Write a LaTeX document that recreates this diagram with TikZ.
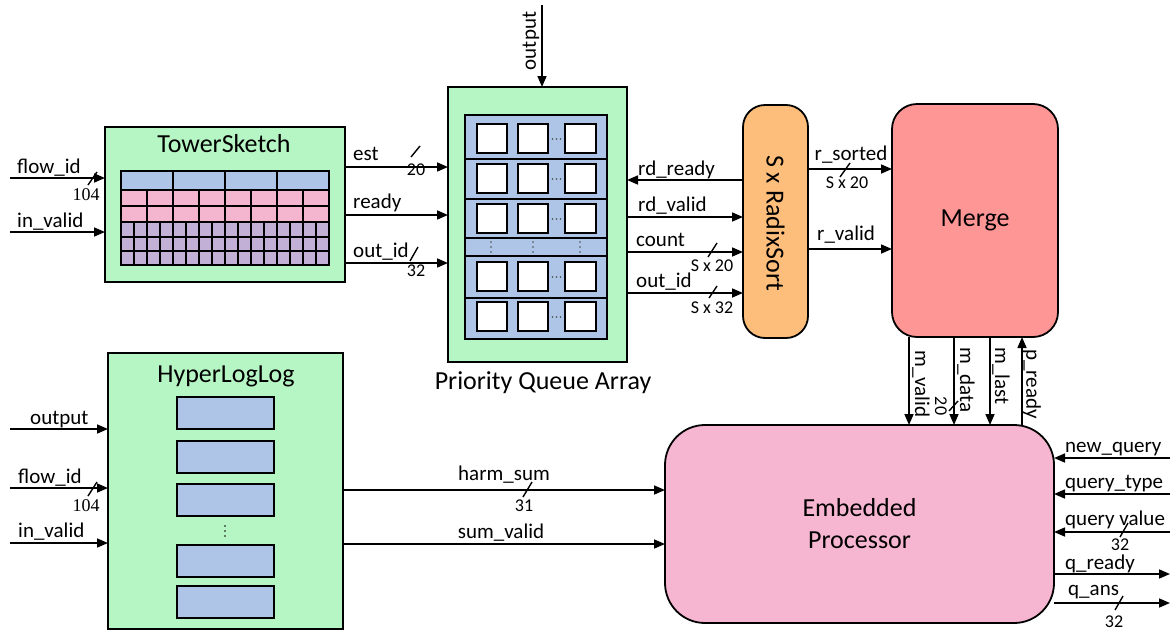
\documentclass[tikz,border=0pt]{standalone}
\usepackage{fontspec}
\setmainfont{Carlito}
\newfontfamily\numserif{Liberation Serif}
\usetikzlibrary{arrows.meta}
\definecolor{boxgreen}{RGB}{182,246,196}
\definecolor{cellblue}{RGB}{174,197,231}
\definecolor{cellpink}{RGB}{244,182,206}
\definecolor{cellpurple}{RGB}{195,176,214}
\definecolor{sortorange}{RGB}{253,190,123}
\definecolor{mergered}{RGB}{255,150,150}
\definecolor{procpink}{RGB}{246,181,208}
\begin{document}
\begin{tikzpicture}[x=1pt,y=-1pt,
  sig/.style={line width=1.6pt,-{Triangle[length=11pt,width=9pt]}},
  box/.style={draw,line width=1.8pt,inner sep=0pt,outer sep=0pt},
  lbl/.style={font=\fontsize{21}{24}\selectfont,inner sep=0pt},
  sub/.style={font=\fontsize{18}{20}\selectfont,inner sep=0pt},
  sernum/.style={font=\numserif\fontsize{18}{20}\selectfont,inner sep=0pt},
  title/.style={font=\fontsize{26}{32}\selectfont,inner sep=0pt},
  bus/.style={line width=1.4pt},
  cell/.style={draw,line width=1.8pt,fill=white},
  dot/.style={fill=black!70,draw=none}
  ]
\useasboundingbox (0,0) rectangle (1174,632);

% ---------- TowerSketch ----------
\node[box,fill=boxgreen,minimum width=240pt,minimum height=155pt] (ts) at (225,204.5) {};
\node[title] (tstitle) at (224,144) {TowerSketch};
\fill[cellblue] (121,171) rectangle (329,190);
\fill[cellpink] (121,190) rectangle (329,222);
\fill[cellpurple] (121,222) rectangle (329,265);
\begin{scope}[line width=1.3pt]
  \foreach \yy in {190,206,222,237,251} \draw (121,\yy) -- (329,\yy);
  \foreach \k in {1,2,3} \draw (121+52*\k,171) -- (121+52*\k,190);
  \foreach \k in {1,...,7} \draw (121+26*\k,190) -- (121+26*\k,222);
  \foreach \k in {1,...,15} \draw (121+13*\k,222) -- (121+13*\k,265);
  \draw (121,171) rectangle (329,265);
\end{scope}

% ---------- Priority Queue Array ----------
\node[box,fill=boxgreen,minimum width=179pt,minimum height=275pt] (pq) at (537.5,224.5) {};
\node[box,fill=cellblue,minimum width=142pt,minimum height=224pt] (pqin) at (536,227) {};
\foreach \yy in {159,199,238,256,298} \draw[line width=1.3pt] (465,\yy) -- (607,\yy);
\foreach \yy in {124,164,204,262,302} {
  \draw[cell] (477,\yy) rectangle (507,\yy+29);
  \draw[cell] (518,\yy) rectangle (548,\yy+29);
  \draw[cell] (565,\yy) rectangle (596,\yy+29);
  \foreach \xx in {552.5,556.5,560.5} \fill[dot] (\xx,\yy+15) circle (0.8);
}
\foreach \xx in {491,533,580} \foreach \yy in {242,247,252} \fill[dot] (\xx,\yy) circle (0.8);
\node[title] (pqtitle) at (543,383) {Priority Queue Array};

% ---------- S x RadixSort ----------
\node[box,fill=sortorange,rounded corners=22pt,minimum width=65pt,minimum height=233pt] (rs) at (775.5,221.5) {};
\node[title,rotate=-90] (rstitle) at (775.5,223) {S x RadixSort};

% ---------- Merge ----------
\node[box,fill=mergered,rounded corners=25pt,minimum width=166pt,minimum height=233pt,title] (mg) at (975,220.5) {Merge};

% ---------- HyperLogLog ----------
\node[box,fill=boxgreen,minimum width=235pt,minimum height=276pt] (hll) at (225.5,491) {};
\node[title] (hlltitle) at (226,376) {HyperLogLog};
\foreach \yy in {397,441,484,545,586} \draw[box,fill=cellblue] (177,\yy) rectangle (274,\yy+32);
\foreach \yy in {526,531,536} \fill[black] (225,\yy) circle (0.9);

% ---------- Embedded Processor ----------
\node[box,fill=procpink,rounded corners=40pt,minimum width=389pt,minimum height=198pt,title,align=center] (ep) at (859.5,524) {Embedded\\Processor};

% ---------- TowerSketch inputs ----------
\coordinate (tsflow) at (10,178);
\coordinate (tsvalid) at (10,232);
\draw[sig] (tsflow) -- (tsflow -| ts.west);
\draw[sig] (tsvalid) -- (tsvalid -| ts.west);
\node[lbl,anchor=base west] (ltsflow) at (17,173) {flow\_id};
\node[lbl,anchor=base west] (ltsvalid) at (17,227) {in\_valid};
\draw[bus] (88,185) -- (97,172);
\node[sernum] (ltsw) at (86,195) {104};

% ---------- TowerSketch -> PQ ----------
\draw[sig] (ts.east |- 0,167) -- (pq.west |- 0,167);
\draw[sig] (ts.east |- 0,215) -- (pq.west |- 0,215);
\draw[sig] (ts.east |- 0,263) -- (pq.west |- 0,263);
\node[lbl,anchor=base west] (lest) at (353,160) {est};
\node[lbl,anchor=base west] (lready) at (353,208) {ready};
\node[lbl,anchor=base west] (loutid) at (353,257) {out\_id};
\draw[bus] (411,157) -- (420,146);
\node[sub] (lestw) at (416,170) {20};
\draw[bus] (410,261) -- (418,247);
\node[sub] (loutw) at (416,271) {32};

% ---------- output into PQ ----------
\coordinate (pqout) at (542,5);
\draw[sig] (pqout) -- (pqout |- pq.north);
\node[lbl,rotate=90] (lpqout) at (531,41) {output};

% ---------- PQ <-> RadixSort ----------
\draw[sig] (rs.west |- 0,180) -- (pq.east |- 0,180);
\draw[sig] (pq.east |- 0,217) -- (rs.west |- 0,217);
\draw[sig] (pq.east |- 0,252) -- (rs.west |- 0,252);
\draw[sig] (pq.east |- 0,293) -- (rs.west |- 0,293);
\node[lbl,anchor=base west] (lrdready) at (638,175) {rd\_ready};
\node[lbl,anchor=base west] (lrdvalid) at (638,211) {rd\_valid};
\node[lbl,anchor=base west] (lcount) at (636,246) {count};
\node[lbl,anchor=base west] (lrsout) at (636,287) {out\_id};
\draw[bus] (708,257) -- (717,243);
\node[sub] (lcountw) at (712,266) {S x 20};
\draw[bus] (709,298) -- (717,286);
\node[sub] (lrsoutw) at (712,308) {S x 32};

% ---------- RadixSort -> Merge ----------
\draw[sig] (rs.east |- 0,169) -- (mg.west |- 0,169);
\draw[sig] (rs.east |- 0,249) -- (mg.west |- 0,249);
\node[lbl,anchor=base] (lrsorted) at (851,160) {r\_sorted};
\draw[bus] (840,177) -- (850,163);
\node[sub] (lrsortedw) at (847,183) {S x 20};
\node[lbl,anchor=base west] (lrvalid) at (817,240) {r\_valid};

% ---------- Merge <-> Embedded Processor ----------
\draw[sig] (mg.south -| 909,0) -- (ep.north -| 909,0);
\draw[sig] (mg.south -| 954,0) -- (ep.north -| 954,0);
\draw[sig] (mg.south -| 990,0) -- (ep.north -| 990,0);
\draw[sig] (ep.north -| 1022,0) -- (mg.south -| 1022,0);
\node[lbl,rotate=-90] (lmvalid) at (921,384) {m\_valid};
\node[lbl,rotate=-90] (lmdata) at (966,380) {m\_data};
\node[lbl,rotate=-90] (lmlast) at (1001,376) {m\_last};
\node[lbl,rotate=-90] (lpready) at (1032,384) {p\_ready};
\draw[bus] (949,411) -- (958,401);
\node[sub,rotate=-90] (lmdataw) at (941,406) {20};

% ---------- HyperLogLog inputs ----------
\coordinate (hllout) at (10,429);
\coordinate (hllflow) at (10,488);
\coordinate (hllvalid) at (10,543);
\draw[sig] (hllout) -- (hllout -| hll.west);
\draw[sig] (hllflow) -- (hllflow -| hll.west);
\draw[sig] (hllvalid) -- (hllvalid -| hll.west);
\node[lbl,anchor=base west] (lhllout) at (30,424) {output};
\node[lbl,anchor=base west] (lhllflow) at (18,483) {flow\_id};
\node[lbl,anchor=base west] (lhllvalid) at (18,537) {in\_valid};
\draw[bus] (88,496) -- (97,482);
\node[sernum] (lhllw) at (86,506) {104};

% ---------- HyperLogLog -> Embedded Processor ----------
\draw[sig] (hll.east |- 0,490) -- (ep.west |- 0,490);
\draw[sig] (hll.east |- 0,544) -- (ep.west |- 0,544);
\node[lbl,anchor=base] (lharm) at (504,480) {harm\_sum};
\draw[bus] (523,497) -- (532,482);
\node[sub] (lharmw) at (524,506) {31};
\node[lbl,anchor=base] (lsumvalid) at (501,538) {sum\_valid};

% ---------- Embedded Processor I/O ----------
\coordinate (newq) at (1170,458);
\coordinate (qtype) at (1170,494);
\coordinate (qval) at (1170,532);
\coordinate (qready) at (1170,574);
\coordinate (qans) at (1170,603);
\draw[sig] (newq) -- (newq -| ep.east);
\draw[sig] (qtype) -- (qtype -| ep.east);
\draw[sig] (qval) -- (qval -| ep.east);
\draw[sig] (qready -| ep.east) -- (qready);
\draw[sig] (qans -| ep.east) -- (qans);
\node[lbl,anchor=base west] (lnewq) at (1065,452) {new\_query};
\node[lbl,anchor=base west] (lqtype) at (1065,488) {query\_type};
\node[lbl,anchor=base west] (lqval) at (1065,525) {query value};
\draw[bus] (1120,537) -- (1128,523);
\node[sub] (lqvalw) at (1120,544.5) {32};
\node[lbl,anchor=base west] (lqready) at (1065,569.5) {q\_ready};
\node[lbl,anchor=base west] (lqans) at (1068,595) {q\_ans};
\draw[bus] (1115,610) -- (1123,596);
\node[sub] (lqansw) at (1114,622) {32};
\end{tikzpicture}
\end{document}
